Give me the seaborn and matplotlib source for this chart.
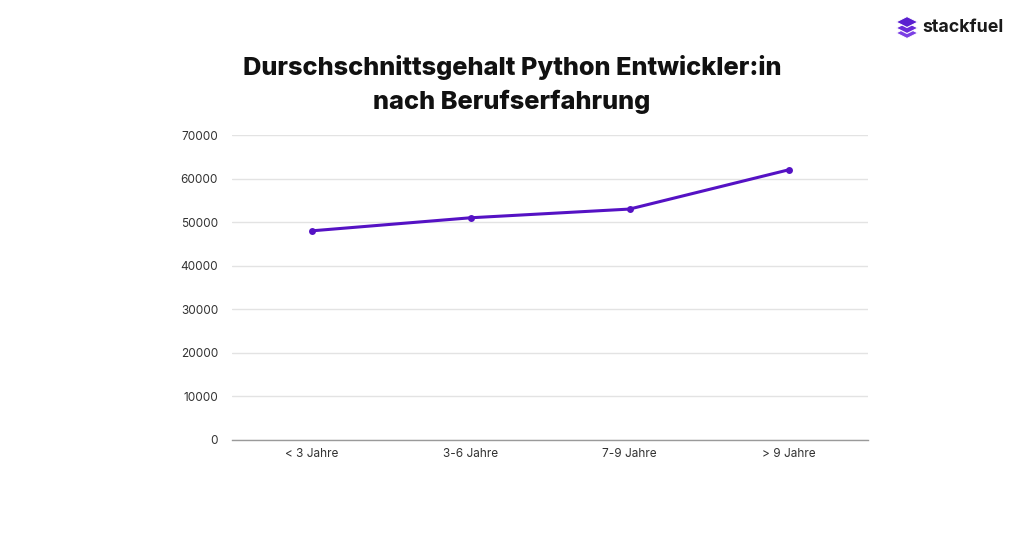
import matplotlib
matplotlib.use("Agg")
import matplotlib.pyplot as plt
import seaborn as sns
import pandas as pd
from matplotlib.patches import Polygon

# values
categories = ["< 3 Jahre", "3-6 Jahre", "7-9 Jahre", "> 9 Jahre"]
salary = [48000, 51000, 53000, 62000]
y_ticks = [0, 10000, 20000, 30000, 40000, 50000, 60000, 70000]

LINE_COLOR = "#5512c4"

sns.set_theme(style="white")
plt.rcParams["font.family"] = ["Inter", "DejaVu Sans"]

df = pd.DataFrame({"Erfahrung": categories, "Gehalt": salary})

fig = plt.figure(figsize=(10.24, 5.35), dpi=100)
ax = fig.add_axes([232 / 1024, 1 - 440 / 535, (868 - 232) / 1024, (440 - 135) / 535])

sns.lineplot(data=df, x="Erfahrung", y="Gehalt", ax=ax, color=LINE_COLOR,
             linewidth=2.2, marker="o", markersize=5, markeredgewidth=0, sort=False)

ax.set_xlim(-0.5, len(categories) - 0.5)
ax.set_ylim(0, 70000)
ax.set_yticks(y_ticks)
ax.set_yticklabels([str(v) for v in y_ticks])
ax.grid(axis="y", color="#e3e3e3", linewidth=1)
ax.set_axisbelow(True)
for side in ["top", "right", "left"]:
    ax.spines[side].set_visible(False)
ax.spines["bottom"].set_color("#9a9a9a")
ax.spines["bottom"].set_linewidth(1)
ax.tick_params(axis="both", length=0, labelsize=8.5, colors="#333333")
ax.tick_params(axis="y", pad=10)
ax.tick_params(axis="x", pad=6)
ax.set_xlabel("")
ax.set_ylabel("")

fig.text(0.5, 1 - 68 / 535, "Durschschnittsgehalt Python Entwickler:in",
         ha="center", va="center", fontsize=18.3, fontweight="heavy", color="#111111")
fig.text(0.5, 1 - 102 / 535, "nach Berufserfahrung",
         ha="center", va="center", fontsize=18.3, fontweight="heavy", color="#111111")

# stackfuel logo: stacked layers icon + wordmark
def layer(cx, cy, w, h, color):
    pts = [(cx - w, cy), (cx, cy + h), (cx + w, cy), (cx, cy - h)]
    pts = [(x / 1024, 1 - y / 535) for x, y in pts]
    fig.patches.append(Polygon(pts, closed=True, transform=fig.transFigure,
                               facecolor=color, edgecolor="white", linewidth=0.8))

layer(907, 33, 11, 5.5, "#7b3fe4")
layer(907, 28, 11, 5.5, "#6a2bd9")
layer(907, 22, 11, 5.5, "#5a1fd0")
fig.text(922 / 1024, 1 - 27 / 535, "stackfuel", ha="left", va="center",
         fontsize=12.8, fontweight="bold", color="#1a1a1a")

fig.savefig("out.png", dpi=100, facecolor="white")
